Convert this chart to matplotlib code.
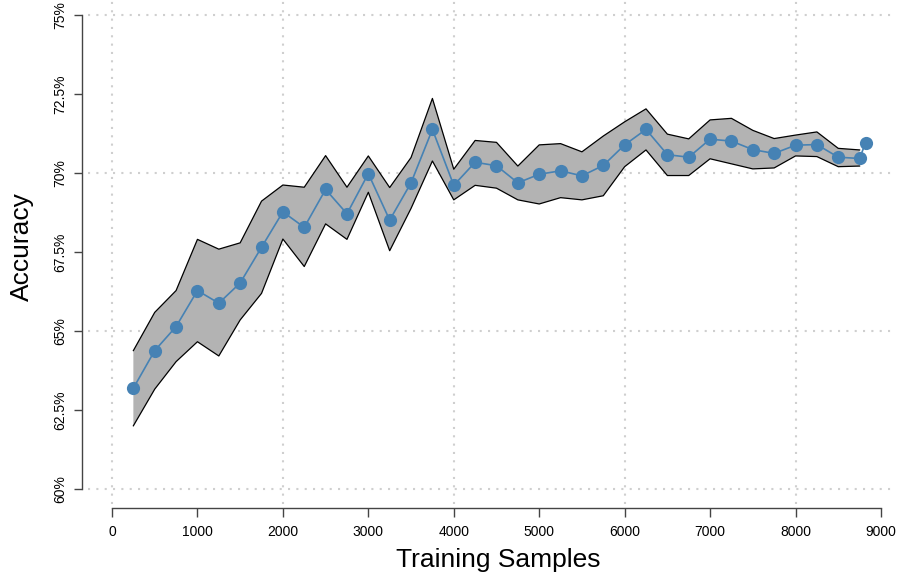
import matplotlib
matplotlib.use("Agg")
import matplotlib.pyplot as plt
from matplotlib.ticker import FixedLocator, FuncFormatter

plt.rcParams['font.family'] = ['Liberation Sans', 'DejaVu Sans']

# Training-set size and mean accuracy (%) with its band
samples = [250, 500, 750, 1000, 1250, 1500, 1750, 2000, 2250, 2500, 2750, 3000,
           3250, 3500, 3750, 4000, 4250, 4500, 4750, 5000, 5250, 5500, 5750, 6000,
           6250, 6500, 6750, 7000, 7250, 7500, 7750, 8000, 8250, 8500, 8750, 8820]
accuracy = [63.19, 64.38, 65.14, 66.28, 65.88, 66.52, 67.65, 68.77, 68.28, 69.48,
            68.71, 69.98, 68.51, 69.69, 71.38, 69.61, 70.34, 70.23, 69.69, 69.96,
            70.07, 69.91, 70.24, 70.89, 71.38, 70.58, 70.50, 71.07, 71.01, 70.74,
            70.62, 70.88, 70.90, 70.50, 70.46, 70.96]
upper = [64.38, 65.59, 66.28, 67.90, 67.59, 67.79, 69.11, 69.62, 69.55, 70.55,
         69.55, 70.54, 69.54, 70.49, 72.36, 70.12, 71.03, 70.97, 70.22, 70.89,
         70.93, 70.67, 71.17, 71.62, 72.03, 71.23, 71.08, 71.68, 71.73, 71.35,
         71.09, 71.20, 71.30, 70.78, 70.73]
lower = [62.00, 63.16, 64.03, 64.66, 64.21, 65.35, 66.19, 67.91, 67.04, 68.39,
         67.90, 69.39, 67.54, 68.88, 70.38, 69.15, 69.61, 69.52, 69.15, 69.02,
         69.22, 69.15, 69.28, 70.20, 70.73, 69.92, 69.92, 70.45, 70.29, 70.13,
         70.16, 70.54, 70.52, 70.20, 70.22]

x_ticks = [0, 1000, 2000, 3000, 4000, 5000, 6000, 7000, 8000, 9000]
y_ticks = [60, 62.5, 65, 67.5, 70, 72.5, 75]
x_grid = [0, 2000, 4000, 6000, 8000]
y_grid = [60, 65, 70, 75]

W, H = 899, 577
fig = plt.figure(figsize=(W / 100, H / 100), dpi=100)
ax = fig.add_axes([88 / W, (H - 504) / H, (896 - 88) / W, 504 / H])
ax.set_xlim(-281, 9176)
ax.set_ylim(59.525, 75.475)

grid_kw = dict(color='#cfcfcf', lw=1.5, dashes=(1, 3), zorder=0)
for gx in x_grid:
    ax.axvline(gx, **grid_kw)
for gy in y_grid:
    ax.axhline(gy, **grid_kw)

nb = len(upper)
ax.fill_between(samples[:nb], lower, upper, facecolor='#b3b3b3',
                edgecolor='none', zorder=1)
ax.plot(samples[:nb], upper, color='black', lw=0.9, zorder=2)
ax.plot(samples[:nb], lower, color='black', lw=0.9, zorder=2)
ax.plot(samples, accuracy, color='#4682b4', lw=1.2, marker='o',
        markersize=9.5, markeredgewidth=0, zorder=3)

for s in ('top', 'right'):
    ax.spines[s].set_visible(False)
ax.spines['left'].set_position(('outward', 4.3))
ax.spines['bottom'].set_position(('outward', 2.9))
ax.spines['left'].set_bounds(60, 75)
ax.spines['bottom'].set_bounds(0, 9000)
for s in ('left', 'bottom'):
    ax.spines[s].set_color('#444444')
    ax.spines[s].set_linewidth(1.0)

ax.xaxis.set_major_locator(FixedLocator(x_ticks))
ax.yaxis.set_major_locator(FixedLocator(y_ticks))
ax.yaxis.set_major_formatter(FuncFormatter(lambda v, p: f"{v:g}%"))
ax.tick_params(axis='both', colors='#444444', labelcolor='black',
               labelsize=10, width=1.0)
ax.tick_params(axis='x', length=6.5, pad=6)
ax.tick_params(axis='y', length=5.8, pad=5)
for lab in ax.get_yticklabels():
    lab.set_rotation(90)
    lab.set_va('center')

fig.text(22 / W, 1 - 247 / H, 'Accuracy', rotation=90, ha='center',
         va='center', fontsize=19)
fig.text(498 / W, 1 - 567 / H, 'Training Samples', ha='center',
         va='baseline', fontsize=19)

fig.savefig('out.png', dpi=100)
